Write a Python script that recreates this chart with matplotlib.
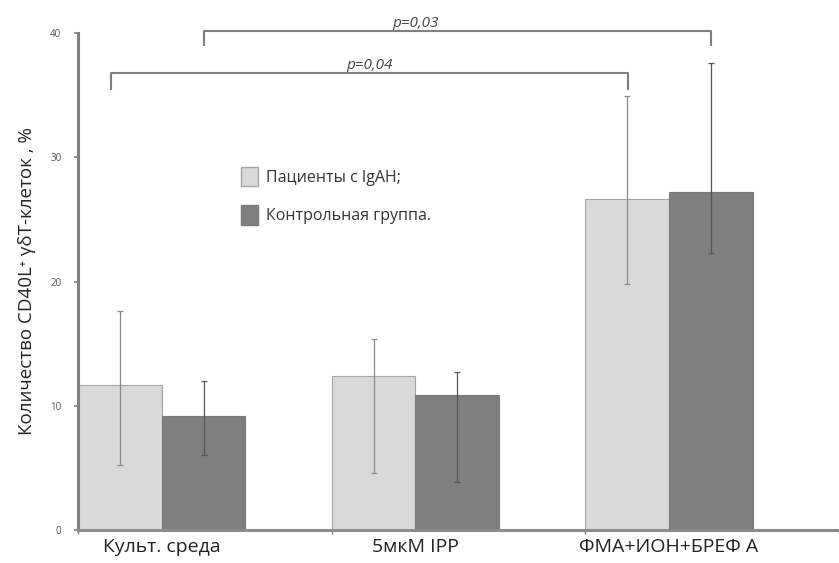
import matplotlib
matplotlib.use("Agg")
import matplotlib.pyplot as plt
from matplotlib.patches import Patch
import numpy as np

categories = ["Культ. среда", "5мкМ IPP", "ФМА+ИОН+БРЕФ А"]
series_names = ["Пациенты с IgAH;", "Контрольная группа."]
patients = [11.7, 12.4, 26.6]
patients_low = [5.2, 4.6, 19.8]
patients_high = [17.6, 15.4, 34.9]
control = [9.2, 10.9, 27.2]
control_low = [6.0, 3.9, 22.3]
control_high = [12.0, 12.7, 37.6]
yticks = [0, 10, 20, 30, 40]
ylabel = "Количество CD40L⁺ γδT-клеток , %"
pvals = ["p=0,04", "p=0,03"]

plt.rcParams['font.family'] = ['Open Sans', 'DejaVu Sans']

fig = plt.figure(figsize=(8.39, 5.63), dpi=100)
ax = fig.add_axes([0.093, 0.0586, 0.907, 0.8828])

w = 0.33
x = np.arange(len(categories))
xl = x + w / 2
xd = x + 1.5 * w

ax.bar(xl, patients, width=w, color="#d9d9d9", edgecolor="#a6a6a6", linewidth=0.8, zorder=2)
ax.bar(xd, control, width=w, color="#7f7f7f", edgecolor="#7a7a7a", linewidth=0.8, zorder=2)

pe = np.array([np.array(patients) - np.array(patients_low), np.array(patients_high) - np.array(patients)])
ce = np.array([np.array(control) - np.array(control_low), np.array(control_high) - np.array(control)])
ax.errorbar(xl, patients, yerr=pe, fmt="none", ecolor="#8a8a8a", elinewidth=0.9, capsize=2, capthick=0.9, zorder=3)
ax.errorbar(xd, control, yerr=ce, fmt="none", ecolor="#555555", elinewidth=0.9, capsize=2, capthick=0.9, zorder=3)

ax.set_xlim(0, 2.975)
ax.set_ylim(0, 40)
ax.set_yticks(yticks)
ax.set_yticklabels([str(v) for v in yticks], fontsize=7, color="#555555")
ax.tick_params(axis='y', length=3, width=1.2, color="#808080", pad=9)
ax.set_xticks([0, 1, 2, 3])
ax.set_xticklabels([])
ax.tick_params(axis='x', which='major', length=3, width=1, color="#808080")
ax.set_xticks(x + w, minor=True)
ax.set_xticklabels(categories, minor=True, fontsize=14, color="#222222")
ax.tick_params(axis='x', which='minor', length=0, pad=6)

for s in ["top", "right"]:
    ax.spines[s].set_visible(False)
ax.spines["left"].set_color("#808080")
ax.spines["left"].set_linewidth(2.2)
ax.spines["bottom"].set_color("#8c8c8c")
ax.spines["bottom"].set_linewidth(2.2)

ax.set_ylabel(ylabel, fontsize=13.5, color="#222222", labelpad=10)

# significance brackets
def bracket(x0, x1, ytop, ydrop, label, xtext, ytext):
    ax.plot([x0, x0, x1, x1], [ydrop, ytop, ytop, ydrop], color="#7f7f7f", lw=1.5, clip_on=False, zorder=4)
    ax.text(xtext, ytext, label, ha="center", va="bottom", fontsize=11, style="italic",
            color="#444444", clip_on=False)

bracket(0.13, 2.17, 36.8, 35.5, pvals[0], 1.15, 36.75)
bracket(xd[0], xd[2], 40.2, 39.0, pvals[1], 1.33, 40.15)

handles = [Patch(facecolor="#d9d9d9", edgecolor="#a6a6a6"), Patch(facecolor="#7f7f7f", edgecolor="#7a7a7a")]
leg = ax.legend(handles, series_names, loc="upper left", bbox_to_anchor=(0.195, 0.76), frameon=False,
                fontsize=11.5, handlelength=1.1, handleheight=1.5, labelspacing=1.2, handletextpad=0.45)
for t in leg.get_texts():
    t.set_color("#333333")

fig.savefig("out.png", dpi=100)
